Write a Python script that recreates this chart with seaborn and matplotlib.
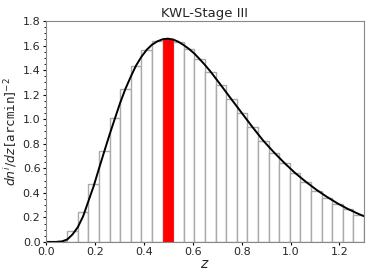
import numpy as np
import pandas as pd
import matplotlib
matplotlib.use("Agg")
import matplotlib.pyplot as plt
from matplotlib.ticker import AutoMinorLocator
import seaborn as sns

# data
bar_heights = [0.0, 0.01, 0.087, 0.244, 0.472, 0.74, 1.007, 1.248, 1.436, 1.566,
               1.634, 1.656, 1.63, 1.57, 1.488, 1.387, 1.276, 1.162, 1.048, 0.934,
               0.825, 0.727, 0.641, 0.559, 0.486, 0.418, 0.361, 0.307, 0.266, 0.222]
highlight_bin = 11
z_min, z_max = 0.0, 1.3

curve_z = [0.0, 0.04, 0.065, 0.087, 0.108, 0.13, 0.152, 0.173, 0.195, 0.217,
           0.238, 0.26, 0.282, 0.303, 0.325, 0.347, 0.368, 0.39, 0.412, 0.433,
           0.455, 0.477, 0.498, 0.52, 0.542, 0.563, 0.585, 0.607, 0.628, 0.65,
           0.672, 0.715, 0.758, 0.802, 0.845, 0.888, 0.932, 0.975, 1.018, 1.062,
           1.105, 1.148, 1.192, 1.235, 1.278, 1.3]
curve_n = [0.0, 0.0, 0.004, 0.02, 0.06, 0.12, 0.21, 0.33, 0.455, 0.60,
           0.735, 0.875, 1.007, 1.132, 1.248, 1.348, 1.436, 1.508, 1.566, 1.606,
           1.634, 1.651, 1.656, 1.649, 1.63, 1.604, 1.572, 1.534, 1.49, 1.442,
           1.39, 1.278, 1.163, 1.047, 0.934, 0.826, 0.73, 0.643, 0.563, 0.491,
           0.426, 0.368, 0.314, 0.268, 0.228, 0.21]

title = "KWL-Stage III"
xlabel = r"$z$"
ylabel = r"$dn^i/dz\,[\mathtt{arcmin}]^{-2}$"

sns.set_style("white")
plt.rcParams["font.family"] = ["DejaVu Sans"]

fig = plt.figure(figsize=(3.74, 2.80), dpi=100)
ax = fig.add_axes([0.123, 0.136, 0.850, 0.789])

nb = len(bar_heights)
edges = np.linspace(z_min, z_max, nb + 1)
centers = 0.5 * (edges[:-1] + edges[1:])
df = pd.DataFrame({"z": centers, "w": bar_heights})

sns.histplot(data=df, x="z", weights="w", bins=nb, binrange=(z_min, z_max),
             color="white", edgecolor="#aaaaaa", linewidth=1.0, alpha=1.0, ax=ax)
dh = df.iloc[[highlight_bin]]
sns.histplot(data=dh, x="z", weights="w", bins=1,
             binrange=(edges[highlight_bin], edges[highlight_bin + 1]),
             color="red", edgecolor="red", linewidth=0.5, alpha=1.0, ax=ax)

dc = pd.DataFrame({"z": curve_z, "n": curve_n})
sns.lineplot(data=dc, x="z", y="n", color="black", linewidth=1.4, ax=ax,
             sort=False, estimator=None)

ax.set_xlim(0.0, 1.3)
ax.set_ylim(0.0, 1.8)
ax.set_xticks([0.0, 0.2, 0.4, 0.6, 0.8, 1.0, 1.2])
ax.set_yticks([0.0, 0.2, 0.4, 0.6, 0.8, 1.0, 1.2, 1.4, 1.6, 1.8])
ax.yaxis.set_minor_locator(AutoMinorLocator(4))
ax.tick_params(axis="both", which="major", direction="out", length=2.5, width=0.8,
               labelsize=8, pad=1.5, left=True, bottom=True, color="black")
ax.tick_params(axis="y", which="minor", direction="out", length=1.5, width=0.6,
               left=True, color="black")
for s in ax.spines.values():
    s.set_color("#888888")
    s.set_linewidth(0.8)

ax.set_title(title, fontsize=9.5, pad=3)
ax.set_xlabel(xlabel, fontsize=10, labelpad=0)
ax.set_ylabel(ylabel, fontsize=9, labelpad=3)

fig.savefig("out.png", dpi=100)
